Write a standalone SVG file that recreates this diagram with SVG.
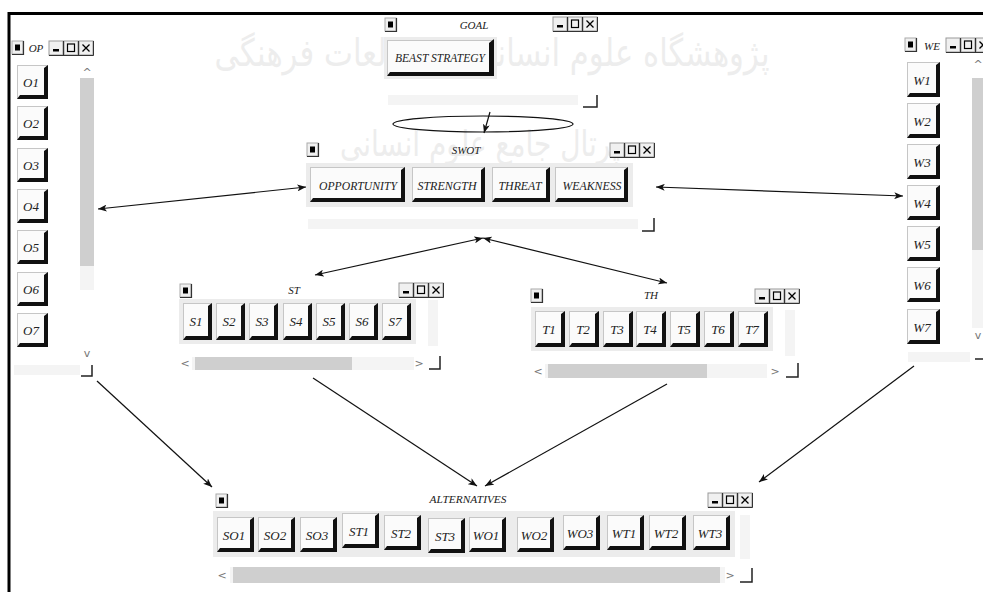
<svg xmlns="http://www.w3.org/2000/svg" width="983" height="592" viewBox="0 0 983 592">
<style>
.bf{fill:#fbfbfb;stroke:#c6c6c6;stroke-width:1}
.bs{fill:#111}
.bl{font-family:"Liberation Serif","Times New Roman",serif;font-style:italic;font-size:13px;fill:#222;text-anchor:middle}
.tt{font-family:"Liberation Serif","Times New Roman",serif;font-style:italic;font-size:11px;fill:#222;text-anchor:middle}
.pn{fill:#ececec}
.th{fill:#cfcfcf}
.tr{fill:#f4f4f4}
.sg{font-family:"DejaVu Sans",sans-serif;font-size:11px;fill:#777;text-anchor:middle}
.cn{fill:none;stroke:#222;stroke-width:1.5}
.ar{fill:none;stroke:#111;stroke-width:1.2}
.wm{font-family:"DejaVu Sans",sans-serif;fill:#c4c4c4;opacity:0.3;text-anchor:middle}
</style>
<defs>
<marker id="ah" viewBox="0 0 10 8" refX="10" refY="4" markerWidth="9" markerHeight="7" markerUnits="userSpaceOnUse" orient="auto-start-reverse"><path d="M0,0 L10,4 L0,8 L2.5,4 Z" fill="#111"/></marker>
<g id="ico"><rect x="0" y="0" width="11" height="13" fill="#f0f0f0" stroke="#aaa"/><rect x="3" y="3.5" width="5" height="6" fill="#000"/><path d="M0,13.5 H11.5 V0" fill="none" stroke="#333" stroke-width="1.2"/></g>
<g id="ctl">
<rect x="0" y="0" width="14" height="14" fill="#f0f0f0" stroke="#999"/><rect x="4" y="8" width="6" height="2.5" fill="#000"/>
<rect x="15" y="0" width="14" height="14" fill="#f0f0f0" stroke="#999"/><rect x="18.5" y="3" width="7" height="7.5" fill="none" stroke="#000" stroke-width="1.2"/>
<rect x="30" y="0" width="14" height="14" fill="#f0f0f0" stroke="#999"/><path d="M33.5,3.5 L40.5,10.5 M40.5,3.5 L33.5,10.5" stroke="#000" stroke-width="1.3"/>
<path d="M0,14.5 H44.5 M14.5,0 V14.5 M29.5,0 V14.5 M44.5,0 V14.5" stroke="#333" stroke-width="1"/>
</g>
<g id="bO"><rect class="bf" x="0.5" y="0.5" width="30" height="33"/><path class="bs" d="M27,3 L31,0 L31,34 L0,34 L3,30 L27,30 Z"/></g>
<g id="bW"><rect class="bf" x="0.5" y="0.5" width="32" height="34"/><path class="bs" d="M29,3 L33,0 L33,35 L0,35 L3,31 L29,31 Z"/></g>
<g id="bS"><rect class="bf" x="0.5" y="0.5" width="28" height="36"/><path class="bs" d="M25,3 L29,0 L29,37 L0,37 L3,33 L25,33 Z"/></g>
<g id="bT"><rect class="bf" x="0.5" y="0.5" width="29" height="35"/><path class="bs" d="M26,3 L30,0 L30,36 L0,36 L3,32 L26,32 Z"/></g>
<g id="bA"><rect class="bf" x="0.5" y="0.5" width="36" height="34"/><path class="bs" d="M33,3 L37,0 L37,35 L0,35 L3,31 L33,31 Z"/></g>
</defs>
<rect x="0" y="0" width="983" height="592" fill="#fff"/>
<g id="watermark">
<text class="wm" x="492" y="66" font-size="38" textLength="555" lengthAdjust="spacingAndGlyphs">پژوهشگاه علوم انسانی و مطالعات فرهنگی</text>
<text class="wm" x="480" y="156" font-size="36" textLength="280" lengthAdjust="spacingAndGlyphs">پرتال جامع علوم انسانی</text>
</g>
<path d="M9,592 V13.5 H983" fill="none" stroke="#000" stroke-width="3"/>

<g id="op">
<use href="#ico" x="12" y="41"/>
<text class="tt" x="36" y="52" font-size="10">OP</text>
<use href="#ctl" x="49" y="41"/>
<rect class="tr" x="80" y="78" width="14" height="212"/>
<rect class="th" x="80" y="78" width="14" height="188"/>
<text class="sg" x="87" y="76">^</text>
<text class="sg" x="87" y="357">v</text>
<rect class="tr" x="14" y="365" width="66" height="10"/>
<path class="cn" d="M81,376 H92 V365"/>
<g id="O1"><use href="#bO" x="17" y="65"/><text class="bl" x="31" y="87">O1</text></g>
<g id="O2"><use href="#bO" x="17" y="106"/><text class="bl" x="31" y="128">O2</text></g>
<g id="O3"><use href="#bO" x="17" y="148"/><text class="bl" x="31" y="170">O3</text></g>
<g id="O4"><use href="#bO" x="17" y="189"/><text class="bl" x="31" y="211">O4</text></g>
<g id="O5"><use href="#bO" x="17" y="230"/><text class="bl" x="31" y="252">O5</text></g>
<g id="O6"><use href="#bO" x="17" y="272"/><text class="bl" x="31" y="294">O6</text></g>
<g id="O7"><use href="#bO" x="17" y="313"/><text class="bl" x="31" y="335">O7</text></g>
</g>

<g id="goal">
<use href="#ico" x="385" y="18"/>
<text class="tt" x="474" y="29">GOAL</text>
<use href="#ctl" x="553" y="17"/>
<rect class="tr" x="388" y="95" width="190" height="10"/>
<path class="cn" d="M583,107 H597 V95"/>
<g id="beast"><rect class="pn" x="384" y="37" width="113" height="42"/><rect class="bf" x="387.5" y="40.5" width="105" height="34"/><path class="bs" d="M489,43 L494,39 L494,76 L387,76 L390,72 L489,72 Z"/>
<text class="bl" x="440" y="62" textLength="90" lengthAdjust="spacingAndGlyphs">BEAST STRATEGY</text></g>
</g>
<g id="hub"><ellipse cx="483" cy="124" rx="90" ry="8" fill="none" stroke="#111" stroke-width="1.2"/></g>

<g id="swot">
<use href="#ico" x="307" y="143"/>
<text class="tt" x="466" y="154">SWOT</text>
<use href="#ctl" x="610" y="143"/>
<rect class="tr" x="308" y="219" width="330" height="10"/>
<path class="cn" d="M642,231 H654 V218"/>
<rect class="pn" x="306" y="163" width="327" height="44"/>
<g id="opportunity"><rect class="bf" x="310.5" y="167.5" width="94" height="34"/><path class="bs" d="M401,170 L405,167 L405,202 L310,202 L313,198 L401,198 Z"/><text class="bl" x="358" y="190" textLength="78" lengthAdjust="spacingAndGlyphs">OPPORTUNITY</text></g>
<g id="strength"><rect class="bf" x="412.5" y="167.5" width="72" height="34"/><path class="bs" d="M481,170 L485,167 L485,202 L412,202 L415,198 L481,198 Z"/><text class="bl" x="447" y="190" textLength="59" lengthAdjust="spacingAndGlyphs">STRENGTH</text></g>
<g id="threat"><rect class="bf" x="492.5" y="167.5" width="57" height="34"/><path class="bs" d="M546,170 L550,167 L550,202 L492,202 L495,198 L546,198 Z"/><text class="bl" x="520" y="190" textLength="43" lengthAdjust="spacingAndGlyphs">THREAT</text></g>
<g id="weakness"><rect class="bf" x="555.5" y="167.5" width="72" height="34"/><path class="bs" d="M624,170 L628,167 L628,202 L555,202 L558,198 L624,198 Z"/><text class="bl" x="592" y="190" textLength="59" lengthAdjust="spacingAndGlyphs">WEAKNESS</text></g>
</g>

<g id="we">
<use href="#ico" x="905" y="38"/>
<text class="tt" x="932" y="50" font-size="10">WE</text>
<use href="#ctl" x="946" y="38"/>
<rect class="tr" x="972" y="78" width="11" height="250"/>
<rect class="th" x="972" y="78" width="11" height="172"/>
<text class="sg" x="978" y="68">^</text>
<text class="sg" x="978" y="339">v</text>
<path class="cn" d="M975,359 H983"/>
<rect class="tr" x="908" y="352" width="62" height="10"/>
<g id="W1"><use href="#bW" x="907" y="62"/><text class="bl" x="922" y="85">W1</text></g>
<g id="W2"><use href="#bW" x="907" y="103"/><text class="bl" x="922" y="126">W2</text></g>
<g id="W3"><use href="#bW" x="907" y="144"/><text class="bl" x="922" y="167">W3</text></g>
<g id="W4"><use href="#bW" x="907" y="185"/><text class="bl" x="922" y="208">W4</text></g>
<g id="W5"><use href="#bW" x="907" y="226"/><text class="bl" x="922" y="249">W5</text></g>
<g id="W6"><use href="#bW" x="907" y="267"/><text class="bl" x="922" y="290">W6</text></g>
<g id="W7"><use href="#bW" x="907" y="309"/><text class="bl" x="922" y="332">W7</text></g>
</g>

<g id="st">
<use href="#ico" x="180" y="284"/>
<text class="tt" x="294" y="294">ST</text>
<use href="#ctl" x="399" y="283"/>
<rect class="pn" x="179" y="299" width="237" height="45"/>
<rect class="tr" x="428" y="300" width="10" height="46"/>
<rect class="tr" x="192" y="357" width="222" height="13"/>
<rect class="th" x="195" y="357" width="157" height="13"/>
<text class="sg" x="185" y="367">&lt;</text>
<text class="sg" x="419" y="367">&gt;</text>
<path class="cn" d="M429,369 H440 V356"/>
<g id="S1"><use href="#bS" x="183" y="303"/><text class="bl" x="196" y="326">S1</text></g>
<g id="S2"><use href="#bS" x="216" y="303"/><text class="bl" x="229" y="326">S2</text></g>
<g id="S3"><use href="#bS" x="249" y="303"/><text class="bl" x="262" y="326">S3</text></g>
<g id="S4"><use href="#bS" x="283" y="303"/><text class="bl" x="296" y="326">S4</text></g>
<g id="S5"><use href="#bS" x="316" y="303"/><text class="bl" x="329" y="326">S5</text></g>
<g id="S6"><use href="#bS" x="349" y="303"/><text class="bl" x="362" y="326">S6</text></g>
<g id="S7"><use href="#bS" x="382" y="303"/><text class="bl" x="395" y="326">S7</text></g>
</g>

<g id="th">
<use href="#ico" x="531" y="289"/>
<text class="tt" x="651" y="299">TH</text>
<use href="#ctl" x="755" y="289"/>
<rect class="pn" x="531" y="307" width="242" height="44"/>
<rect class="tr" x="785" y="310" width="10" height="46"/>
<rect class="tr" x="545" y="364" width="222" height="14"/>
<rect class="th" x="548" y="364" width="159" height="14"/>
<text class="sg" x="538" y="375">&lt;</text>
<text class="sg" x="775" y="375">&gt;</text>
<path class="cn" d="M786,377 H798 V363"/>
<g id="T1"><use href="#bT" x="535" y="311"/><text class="bl" x="549" y="334">T1</text></g>
<g id="T2"><use href="#bT" x="569" y="311"/><text class="bl" x="583" y="334">T2</text></g>
<g id="T3"><use href="#bT" x="603" y="311"/><text class="bl" x="617" y="334">T3</text></g>
<g id="T4"><use href="#bT" x="636" y="311"/><text class="bl" x="650" y="334">T4</text></g>
<g id="T5"><use href="#bT" x="670" y="311"/><text class="bl" x="684" y="334">T5</text></g>
<g id="T6"><use href="#bT" x="704" y="311"/><text class="bl" x="718" y="334">T6</text></g>
<g id="T7"><use href="#bT" x="738" y="311"/><text class="bl" x="752" y="334">T7</text></g>
</g>

<g id="alternatives">
<use href="#ico" x="216" y="494"/>
<text class="tt" x="468" y="503" textLength="77" lengthAdjust="spacingAndGlyphs">ALTERNATIVES</text>
<use href="#ctl" x="708" y="493"/>
<rect class="pn" x="213" y="511" width="522" height="46"/>
<rect class="tr" x="740" y="515" width="10" height="44"/>
<rect class="tr" x="230" y="567" width="495" height="16"/>
<rect class="th" x="233" y="567" width="487" height="16"/>
<text class="sg" x="222" y="579">&lt;</text>
<text class="sg" x="730" y="579">&gt;</text>
<path class="cn" d="M740,582 H752 V568"/>
<g id="SO1"><use href="#bA" x="217" y="517"/><text class="bl" x="234" y="540">SO1</text></g>
<g id="SO2"><use href="#bA" x="258" y="517"/><text class="bl" x="275" y="540">SO2</text></g>
<g id="SO3"><use href="#bA" x="300" y="517"/><text class="bl" x="317" y="540">SO3</text></g>
<g id="ST1"><use href="#bA" x="342" y="513"/><text class="bl" x="359" y="536">ST1</text></g>
<g id="ST2"><use href="#bA" x="384" y="515"/><text class="bl" x="401" y="538">ST2</text></g>
<g id="ST3"><use href="#bA" x="428" y="518"/><text class="bl" x="445" y="541">ST3</text></g>
<g id="WO1"><use href="#bA" x="469" y="517"/><text class="bl" x="486" y="540">WO1</text></g>
<g id="WO2"><use href="#bA" x="517" y="517"/><text class="bl" x="534" y="540">WO2</text></g>
<g id="WO3"><use href="#bA" x="563" y="515"/><text class="bl" x="580" y="538">WO3</text></g>
<g id="WT1"><use href="#bA" x="607" y="515"/><text class="bl" x="624" y="538">WT1</text></g>
<g id="WT2"><use href="#bA" x="649" y="515"/><text class="bl" x="666" y="538">WT2</text></g>
<g id="WT3"><use href="#bA" x="693" y="515"/><text class="bl" x="710" y="538">WT3</text></g>
</g>

<g id="connectors">
<path class="ar" d="M490,112 L484,133" marker-end="url(#ah)"/>
<path class="ar" d="M98,209 L306,187" marker-start="url(#ah)" marker-end="url(#ah)"/>
<path class="ar" d="M656,187 L903,196" marker-start="url(#ah)" marker-end="url(#ah)"/>
<path class="ar" d="M483,238 L315,275" marker-start="url(#ah)" marker-end="url(#ah)"/>
<path class="ar" d="M483,238 L667,283" marker-start="url(#ah)" marker-end="url(#ah)"/>
<path class="ar" d="M97,381 L212,487" marker-end="url(#ah)"/>
<path class="ar" d="M313,378 L477,486" marker-end="url(#ah)"/>
<path class="ar" d="M667,384 L485,486" marker-end="url(#ah)"/>
<path class="ar" d="M914,366 L759,482" marker-end="url(#ah)"/>
</g>
</svg>
